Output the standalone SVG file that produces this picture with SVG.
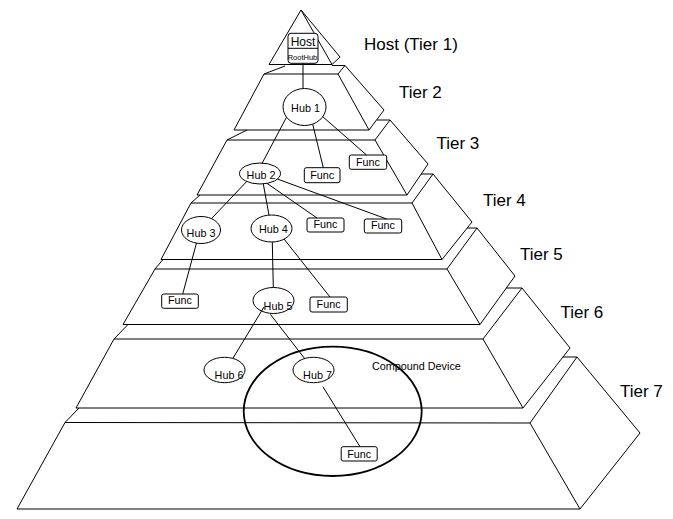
<svg xmlns="http://www.w3.org/2000/svg" width="673" height="519" viewBox="0 0 673 519">
<style>
.p{fill:none;stroke:#000;stroke-width:1;stroke-linejoin:miter}
.c{fill:none;stroke:#000;stroke-width:1}
.n{fill:#fff;stroke:#000;stroke-width:1}
.t{font-family:"Liberation Sans",Arial,sans-serif;fill:#000}
.h{font-size:10.8px;text-anchor:middle}
.tier{font-size:17px}
</style>
<rect width="673" height="519" fill="#fff"/>
<g id="pyramid" class="p">
<path id="tier1" d="M301,10 L269,64.5 L332,64.5 Z M301,10 L340,57 L332,64.5"/>
<path id="tier2" d="M264,74 L338,74 L369,130 L234,130 Z M338,74 L345,65.5 L384,110 L369,130 M264,74 L285,66 M332,65.5 L345,65.5"/>
<path id="tier3" d="M227,140 L375,140 L407,195 L197,195 Z M375,140 L390,120 L428,164 L407,195 M227,140 L247,130 M377,120 L390,120"/>
<path id="tier4" d="M191,203 L412,203 L442,259.5 L161,259.5 Z M412,203 L433,174 L472,222 L442,259.5 M191,203 L200,195 M421,174 L433,174"/>
<path id="tier5" d="M155,269 L447,269 L480,324.5 L123,324.5 Z M447,269 L477,228 L515,276 L480,324.5 M155,269 L163,259.5 M467,228 L477,228"/>
<path id="tier6" d="M114,339 L483,339 L523,408 L76,408 Z M483,339 L522,288 L570,348 L523,408 M114,339 L128,324.5 M506,288 L522,288"/>
<path id="tier7" d="M65,422.5 L530,423 L580,509 L17,509 Z M530,423 L577,357 L640,433 L580,509 M65,422.5 L79,408 M563,357 L577,357"/>
</g>
<g id="tier-labels" class="t tier">
<text x="364" y="50">Host (Tier 1)</text>
<text x="399" y="97.5">Tier 2</text>
<text x="436.5" y="149">Tier 3</text>
<text x="483" y="205.5">Tier 4</text>
<text x="520" y="260">Tier 5</text>
<text x="560.5" y="317.5">Tier 6</text>
<text x="620" y="396.5">Tier 7</text>
</g>
<g id="compound-device">
<ellipse cx="332.7" cy="411.3" rx="89" ry="64.7" fill="none" stroke="#000" stroke-width="1.8"/>
<text class="t" x="372" y="369.5" font-size="10.8">Compound Device</text>
</g>
<g id="host">
<rect class="n" x="288" y="33.3" width="30" height="30" rx="3"/>
<line class="c" x1="288" y1="48.3" x2="318" y2="48.3"/>
<text class="t" x="303" y="46" font-size="12" text-anchor="middle">Host</text>
<text class="t" x="302.5" y="59.5" font-size="7.5" text-anchor="middle">RootHub</text>
</g>
<g id="hub1"><ellipse class="n" cx="304.5" cy="107" rx="21.5" ry="18.5"/><text class="t h" x="305.5" y="112">Hub 1</text></g>
<g id="hub2"><ellipse class="n" cx="260" cy="173.5" rx="20.5" ry="10.5"/><text class="t h" x="261" y="179">Hub 2</text></g>
<g id="hub3"><ellipse class="n" cx="201" cy="230" rx="19.5" ry="13.5"/><text class="t h" x="201" y="236.5">Hub 3</text></g>
<g id="hub4"><ellipse class="n" cx="271.5" cy="228.5" rx="20.5" ry="13.5"/><text class="t h" x="273.3" y="232.7">Hub 4</text></g>
<g id="hub5"><ellipse class="n" cx="273.5" cy="300.5" rx="20.5" ry="13"/><text class="t h" x="278" y="310">Hub 5</text></g>
<g id="hub6"><ellipse class="n" cx="224.5" cy="370" rx="20.5" ry="12.7"/><text class="t h" x="229" y="379">Hub 6</text></g>
<g id="hub7"><ellipse class="n" cx="313.5" cy="370" rx="20.5" ry="12.7"/><text class="t h" x="317.5" y="379">Hub 7</text></g>
<g id="func-t3a"><rect class="n" x="304.3" y="167.7" width="35.7" height="15" rx="2"/><text class="t h" x="322.2" y="179">Func</text></g>
<g id="func-t3b"><rect class="n" x="349.3" y="155" width="37.4" height="14.3" rx="2"/><text class="t h" x="368" y="166">Func</text></g>
<g id="func-t4a"><rect class="n" x="307" y="218" width="37" height="14" rx="2"/><text class="t h" x="325.5" y="228">Func</text></g>
<g id="func-t4b"><rect class="n" x="364.3" y="219" width="37.4" height="14" rx="2"/><text class="t h" x="383" y="229">Func</text></g>
<g id="func-t5a"><rect class="n" x="161.7" y="294" width="36.6" height="14.3" rx="2"/><text class="t h" x="180" y="304">Func</text></g>
<g id="func-t5b"><rect class="n" x="310" y="297" width="37.3" height="15" rx="2"/><text class="t h" x="328.6" y="307.5">Func</text></g>
<g id="func-t7"><rect class="n" x="341.2" y="446.7" width="36" height="14.3" rx="2"/><text class="t h" x="359.2" y="458">Func</text></g>
<g id="connectors" class="c">
<line x1="303" y1="63.3" x2="303" y2="88.5"/>
<line x1="286.5" y1="117.2" x2="262" y2="163.5"/>
<line x1="312.7" y1="124.2" x2="323.3" y2="167.7"/>
<line x1="322.8" y1="116.7" x2="366.5" y2="155"/>
<line x1="246.7" y1="181.5" x2="211.5" y2="218.6"/>
<line x1="263.3" y1="184" x2="269" y2="215.2"/>
<line x1="266.9" y1="183.3" x2="317" y2="218"/>
<line x1="277.3" y1="179" x2="386.7" y2="219"/>
<line x1="196.5" y1="243" x2="182.7" y2="294"/>
<line x1="272.3" y1="242" x2="273.3" y2="287.5"/>
<line x1="284.1" y1="239.1" x2="330" y2="297"/>
<line x1="264" y1="307" x2="232.9" y2="358.3"/>
<line x1="270.5" y1="314.5" x2="305" y2="359"/>
<line x1="322.9" y1="386.7" x2="360" y2="446.7"/>
</g>
</svg>
